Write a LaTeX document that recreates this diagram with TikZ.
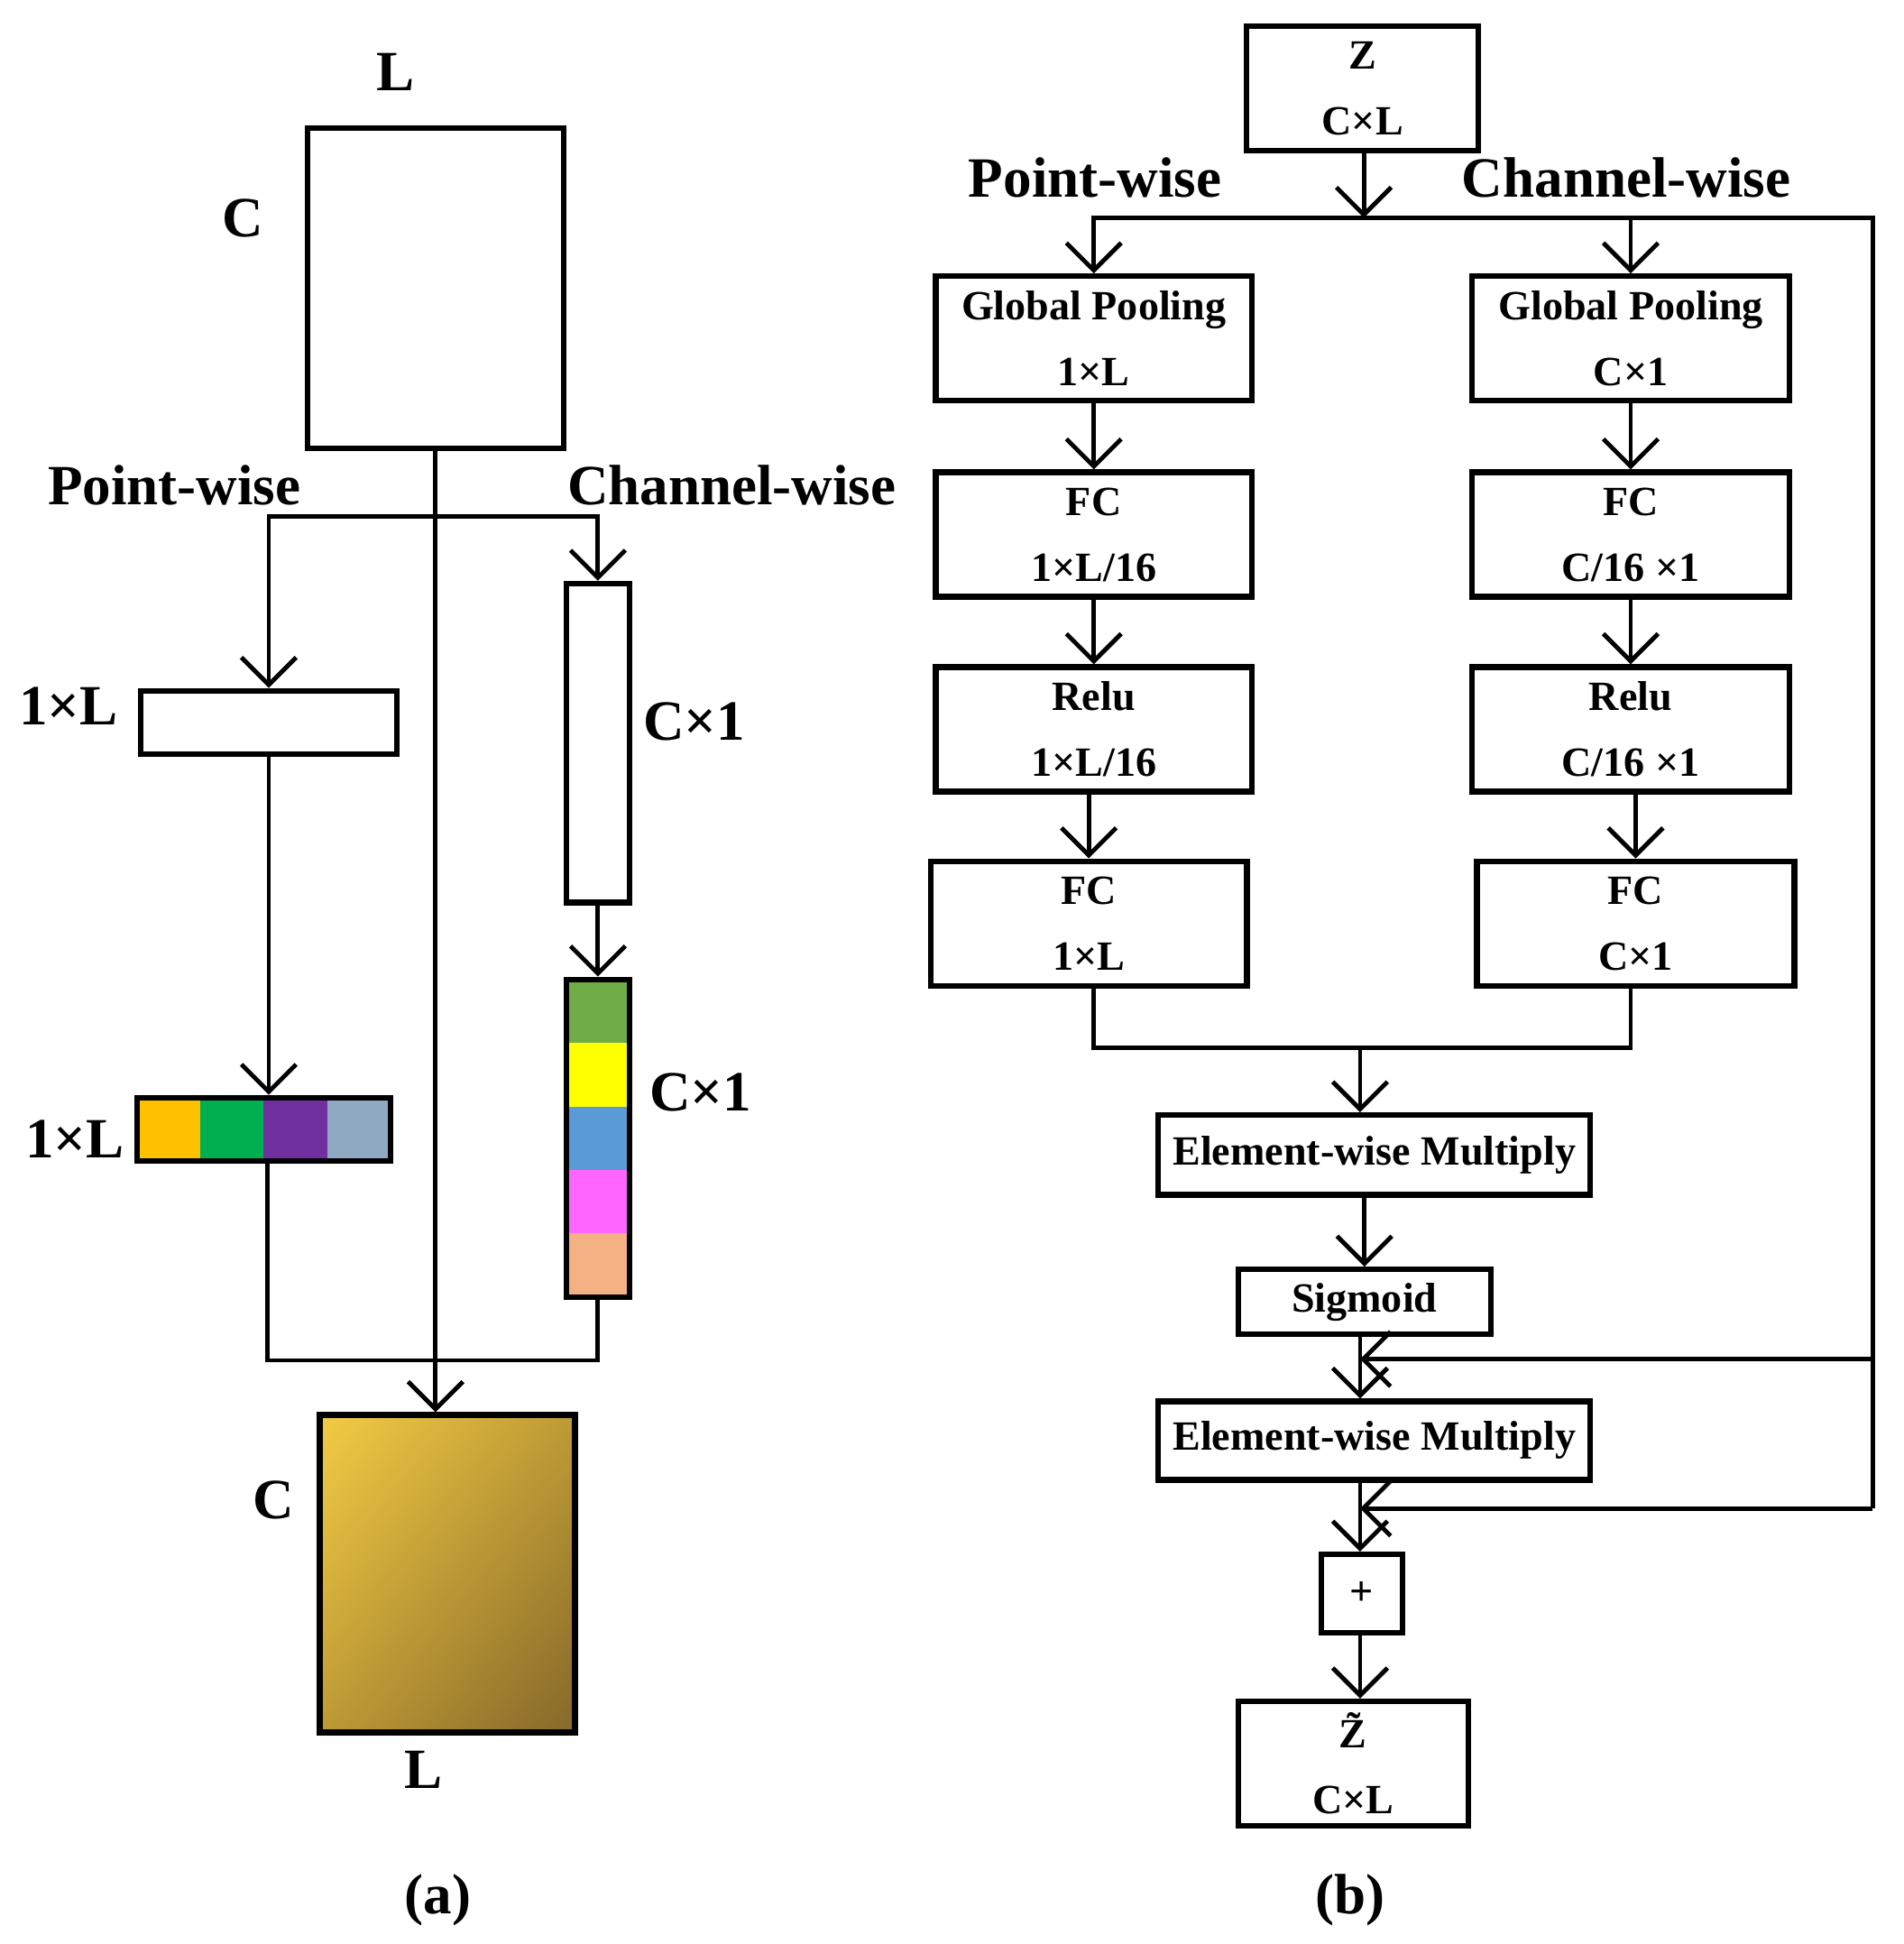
\documentclass[tikz,border=0pt]{standalone}
\usepackage{fontspec}
\setmainfont{Liberation Serif}
\usetikzlibrary{arrows.meta, positioning, calc, shadings}
\definecolor{cellorange}{HTML}{FFC000}
\definecolor{cellgreen}{HTML}{00B050}
\definecolor{cellpurple}{HTML}{7030A0}
\definecolor{cellgray}{HTML}{8EA9C1}
\definecolor{cellleaf}{HTML}{70AD47}
\definecolor{cellyellow}{HTML}{FFFF00}
\definecolor{cellblue}{HTML}{5B9BD5}
\definecolor{cellpink}{HTML}{FF66FF}
\definecolor{cellpeach}{HTML}{F4B183}
\definecolor{goldlight}{HTML}{F2CC44}
\definecolor{goldmid}{HTML}{BE9A35}
\definecolor{golddark}{HTML}{86682A}

\begin{document}
\begin{tikzpicture}[
    x=0.01cm, y=-0.01cm,
    box/.style={rectangle, draw, line width=1.3pt, align=center, inner sep=0pt, font=\fontsize{9.5}{15}\selectfont\bfseries},
    blk/.style={rectangle, draw, line width=1.3pt, inner sep=0pt},
    cell/.style={rectangle, draw=none, inner sep=0pt},
    lbl/.style={font=\fontsize{13}{15}\selectfont\bfseries},
    arrow/.style={-{Straight Barb[length=2.2mm]}, line width=1pt},
    line/.style={line width=1pt}
]
\useasboundingbox (0,0) rectangle (1530,1562);

% (a) input map
\node[blk, minimum width=2.06cm, minimum height=2.57cm] (big) at (350,231.5) {};
\node[lbl] (la) at (318,58) {L};
\node[lbl] (ca) at (195,175) {C};
\node[lbl] (pwa) at (140,390) {Point-wise};
\node[lbl] (cwa) at (588,390) {Channel-wise};

% pooled vectors
\node[blk, minimum width=2.06cm, minimum height=0.51cm] (row) at (216,580.5) {};
\node[lbl] (rowl) at (55,567) {1×L};
\node[blk, minimum width=0.51cm, minimum height=2.56cm] (col) at (480.5,597) {};
\node[lbl] (coll) at (558,580) {C×1};

% coloured weights
\foreach \c [count=\i] in {cellorange,cellgreen,cellpurple,cellgray}
  \node[cell, fill=\c, minimum width=0.51cm, minimum height=0.51cm] (r\i) at (110+51*\i-25.5,907.5) {};
\node[blk, minimum width=2.04cm, minimum height=0.51cm] (wrow) at (212,907.5) {};
\node[lbl] (wrowl) at (60,915) {1×L};
\foreach \c [count=\i] in {cellleaf,cellyellow,cellblue,cellpink,cellpeach}
  \node[cell, fill=\c, minimum width=0.51cm, minimum height=0.51cm] (c\i) at (480.5,787+51*\i-25.5) {};
\node[blk, minimum width=0.51cm, minimum height=2.55cm] (wcol) at (480.5,914.5) {};
\node[lbl] (wcoll) at (563,878) {C×1};

% output map
\node[blk, minimum width=2.05cm, minimum height=2.55cm, upper left=goldlight, upper right=goldmid, lower left=goldmid, lower right=golddark] (outa) at (359.5,1264.5) {};
\node[lbl] (cb) at (220,1205) {C};
\node[lbl] (lb) at (340,1422) {L};
\node[lbl] (capa) at (352,1527) {(a)};

\coordinate (bra) at (350,415);
\coordinate (joina) at (215,1093);
\draw[arrow] (big.south) -- (big.south |- outa.north);
\draw[arrow] (bra) -| (row.north);
\draw[arrow] (bra) -| (col.north);
\draw[arrow] (row.south) -- (row.south |- wrow.north);
\draw[arrow] (col.south) -- (wcol.north);
\draw[line] (wrow.south -| joina) -- (joina) -| (wcol.south);

% (b) flow chart
\node[box, minimum width=1.86cm, minimum height=1.0cm] (z) at (1095,71) {Z\\C×L};
\node[lbl] (pwb) at (880,143) {Point-wise};
\node[lbl] (cwb) at (1307,143) {Channel-wise};

\node[box, minimum width=2.54cm, minimum height=1.0cm] (gpp) at (879,272) {Global Pooling\\1×L};
\node[box, minimum width=2.54cm, minimum height=1.0cm] (fcp) at (879,429.5) {FC\\1×L/16};
\node[box, minimum width=2.54cm, minimum height=1.0cm] (relp) at (879,586) {Relu\\1×L/16};
\node[box, minimum width=2.54cm, minimum height=1.0cm] (fcp2) at (875,742) {FC\\1×L};
\node[box, minimum width=2.55cm, minimum height=1.0cm] (gpc) at (1310.5,272) {Global Pooling\\C×1};
\node[box, minimum width=2.55cm, minimum height=1.0cm] (fcc) at (1310.5,429.5) {FC\\C/16 ×1};
\node[box, minimum width=2.55cm, minimum height=1.0cm] (relc) at (1310.5,586) {Relu\\C/16 ×1};
\node[box, minimum width=2.55cm, minimum height=1.0cm] (fcc2) at (1314.5,742) {FC\\C×1};

\node[box, minimum width=3.47cm, minimum height=0.64cm] (ewm) at (1104.5,928) {Element-wise Multiply};
\node[box, minimum width=2.03cm, minimum height=0.52cm] (sig) at (1096.5,1046) {Sigmoid};
\node[box, minimum width=3.47cm, minimum height=0.63cm] (ewm2) at (1104.5,1157.5) {Element-wise Multiply};
\node[box, minimum width=0.65cm, minimum height=0.63cm] (plus) at (1094.5,1280.5) {+};
\node[box, minimum width=1.85cm, minimum height=1.0cm] (zout) at (1087.5,1417) {\~{Z}\\C×L};
\node[lbl] (capb) at (1085,1527) {(b)};

\coordinate (split) at (1096,175);
\coordinate (rtop) at (1505,175);
\coordinate (rmid) at (1505,1092);
\coordinate (rbot) at (1505,1212);
\coordinate (amid) at (1093,1092);
\coordinate (abot) at (1093,1212);
\coordinate (joinb) at (1093,842);

\draw[arrow] (z.south -| split) -- (split);
\draw[arrow] (split) -| (gpp.north);
\draw[arrow] (split) -| (gpc.north);
\draw[line] (split) -- (rtop) -- (rbot);
\draw[arrow] (gpp) -- (fcp);
\draw[arrow] (fcp) -- (relp);
\draw[arrow] (relp.south -| fcp2) -- (fcp2.north);
\draw[arrow] (gpc) -- (fcc);
\draw[arrow] (fcc) -- (relc);
\draw[arrow] (relc.south -| fcc2) -- (fcc2.north);
\draw[line] (fcp2.south -| gpp) |- (joinb) -| (fcc2.south -| gpc);
\draw[arrow] (joinb) -- (joinb |- ewm.north);
\draw[arrow] (ewm.south -| sig) -- (sig.north);
\draw[arrow] (sig.south -| amid) -- (amid |- ewm2.north);
\draw[arrow] (rmid) -- (amid);
\draw[arrow] (ewm2.south -| abot) -- (abot |- plus.north);
\draw[arrow] (rbot) -- (abot);
\draw[arrow] (plus.south -| abot) -- (abot |- zout.north);
\end{tikzpicture}
\end{document}
